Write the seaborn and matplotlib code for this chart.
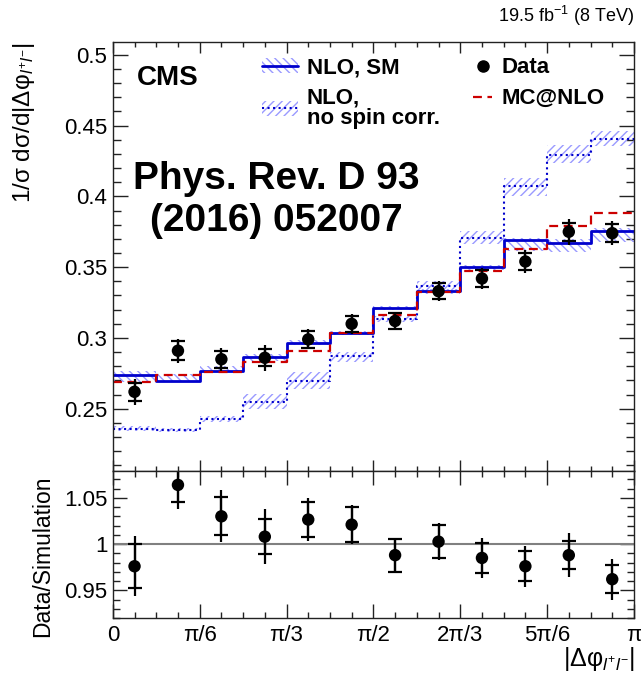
import numpy as np
import pandas as pd
import seaborn as sns
import matplotlib
matplotlib.use("Agg")
import matplotlib.pyplot as plt
from matplotlib.ticker import MultipleLocator, FixedLocator
from matplotlib.lines import Line2D
from matplotlib.patches import Patch

# bins of |delta phi(l+l-)|, 12 bins from 0 to pi
edges = np.linspace(0, np.pi, 13)
centers = 0.5 * (edges[1:] + edges[:-1])

# normalised cross section, data
data_y = [0.262, 0.291, 0.285, 0.286, 0.299, 0.310, 0.312, 0.333, 0.342, 0.354, 0.375, 0.374]
data_stat = [0.0065, 0.0068, 0.0060, 0.0060, 0.0060, 0.0058, 0.0055, 0.0058, 0.0058, 0.0060, 0.0062, 0.0062]
data_tot = [0.0090, 0.0085, 0.0080, 0.0090, 0.0070, 0.0070, 0.0065, 0.0070, 0.0075, 0.0080, 0.0090, 0.0085]

# NLO SM + uncertainty band
nlo_sm = [0.2742, 0.2697, 0.2768, 0.2868, 0.2965, 0.3035, 0.3213, 0.3329, 0.3502, 0.3692, 0.3669, 0.3754]
nlo_sm_hi = [0.2770, 0.2745, 0.2800, 0.2890, 0.2985, 0.3050, 0.3225, 0.3345, 0.3515, 0.3705, 0.3700, 0.3780]
nlo_sm_lo = [0.2690, 0.2690, 0.2760, 0.2840, 0.2950, 0.3020, 0.3200, 0.3310, 0.3480, 0.3615, 0.3605, 0.3680]

# NLO without spin correlation + band
nlo_ns = [0.2359, 0.2350, 0.2430, 0.2551, 0.2699, 0.2875, 0.3134, 0.3368, 0.3706, 0.4073, 0.4289, 0.4408]
nlo_ns_hi = [0.2375, 0.2365, 0.2450, 0.2606, 0.2758, 0.2899, 0.3157, 0.3404, 0.3756, 0.4131, 0.4366, 0.4460]
nlo_ns_lo = [0.2345, 0.2335, 0.2410, 0.2500, 0.2641, 0.2829, 0.3110, 0.3333, 0.3662, 0.4002, 0.4237, 0.4354]

# MC@NLO
mcatnlo = [0.2692, 0.2739, 0.2763, 0.2833, 0.2911, 0.3035, 0.3164, 0.3326, 0.3474, 0.3627, 0.3794, 0.3885]

# Data / Simulation
ratio = [0.976, 1.064, 1.030, 1.008, 1.0265, 1.021, 0.988, 1.0026, 0.985, 0.976, 0.988, 0.962]
ratio_stat = [0.0237, 0.018, 0.0204, 0.019, 0.019, 0.019, 0.018, 0.018, 0.0165, 0.016, 0.015, 0.015]
ratio_tot = [0.0326, 0.026, 0.028, 0.030, 0.023, 0.021, 0.019, 0.0197, 0.0215, 0.022, 0.024, 0.022]

xtick_pos = [0, np.pi / 6, np.pi / 3, np.pi / 2, 2 * np.pi / 3, 5 * np.pi / 6, np.pi]
xtick_lab = ["0", "π/6", "π/3", "π/2", "2π/3", "5π/6", "π"]
ytick_main = [0.25, 0.3, 0.35, 0.4, 0.45, 0.5]
ytick_main_lab = ["0.25", "0.3", "0.35", "0.4", "0.45", "0.5"]
ytick_ratio = [0.95, 1.0, 1.05]
ytick_ratio_lab = ["0.95", "1", "1.05"]

blue = "#0000cc"
red = "#cc0000"
hatch_col = "#9a9aff"

sns.set_theme(style="ticks")
plt.rcParams['font.family'] = ['Liberation Sans', 'DejaVu Sans']
plt.rcParams['mathtext.fontset'] = 'custom'
plt.rcParams['mathtext.rm'] = 'Liberation Sans'
plt.rcParams['mathtext.it'] = 'Liberation Sans:italic'
plt.rcParams['hatch.linewidth'] = 1.0
for k in ['text.color', 'axes.labelcolor', 'xtick.color', 'ytick.color', 'axes.edgecolor']:
    plt.rcParams[k] = 'black'


def steps(vals):
    return pd.DataFrame({"x": edges, "y": list(vals) + [vals[-1]]})


fig = plt.figure(figsize=(6.41, 6.73), dpi=100)
ax = fig.add_axes([0.176, 0.300, 0.813, 0.6376])
rax = fig.add_axes([0.176, 0.0817, 0.813, 0.2184])

# bands
ax.fill_between(edges, nlo_sm_lo + [nlo_sm_lo[-1]], nlo_sm_hi + [nlo_sm_hi[-1]], step='post',
                facecolor='none', edgecolor=hatch_col, hatch='\\\\\\\\', linewidth=0)
ax.fill_between(edges, nlo_ns_lo + [nlo_ns_lo[-1]], nlo_ns_hi + [nlo_ns_hi[-1]], step='post',
                facecolor='none', edgecolor=hatch_col, hatch='////', linewidth=0)

sns.lineplot(data=steps(nlo_ns), x="x", y="y", ax=ax, drawstyle='steps-post', color=blue,
             linestyle=':', linewidth=1.5, estimator=None, sort=False)
sns.lineplot(data=steps(nlo_sm), x="x", y="y", ax=ax, drawstyle='steps-post', color=blue,
             linewidth=2.0, estimator=None, sort=False)
sns.lineplot(data=steps(mcatnlo), x="x", y="y", ax=ax, drawstyle='steps-post', color=red,
             linestyle=(0, (4, 2.5)), linewidth=1.6, estimator=None, sort=False)

# data points
ax.errorbar(centers, data_y, yerr=data_tot, fmt='none', ecolor='black', elinewidth=1.6)
ax.errorbar(centers, data_y, yerr=data_stat, fmt='none', ecolor='black', elinewidth=1.6,
            capsize=5, capthick=1.6)
sns.scatterplot(x=centers, y=data_y, ax=ax, color='black', s=80, edgecolor='none', zorder=5)

ax.set_xlim(0, np.pi)
ax.set_ylim(0.206, 0.509)
ax.set_xlabel("")
ax.set_ylabel("")
ax.xaxis.set_major_locator(FixedLocator(xtick_pos))
ax.xaxis.set_minor_locator(MultipleLocator(np.pi / 24))
ax.set_xticklabels([])
ax.set_yticks(ytick_main)
ax.set_yticklabels(ytick_main_lab)
ax.yaxis.set_minor_locator(MultipleLocator(0.01))

# ratio panel
rax.axhline(1.0, color='#808080', linewidth=1.5)
rax.errorbar(centers, ratio, yerr=ratio_tot, fmt='none', ecolor='black', elinewidth=1.6)
rax.errorbar(centers, ratio, yerr=ratio_stat, fmt='none', ecolor='black', elinewidth=1.6,
             capsize=5, capthick=1.6)
sns.scatterplot(x=centers, y=ratio, ax=rax, color='black', s=80, edgecolor='none', zorder=5)
rax.set_xlim(0, np.pi)
rax.set_ylim(0.92, 1.079)
rax.set_xlabel("")
rax.set_ylabel("")
rax.set_xticks(xtick_pos)
rax.set_xticklabels(xtick_lab)
rax.xaxis.set_minor_locator(MultipleLocator(np.pi / 24))
rax.set_yticks(ytick_ratio)
rax.set_yticklabels(ytick_ratio_lab)
rax.yaxis.set_minor_locator(MultipleLocator(0.01))

for a in (ax, rax):
    a.tick_params(which='both', direction='in', top=True, right=True, labelsize=16,
                  width=1.0, color='#222222')
    for s in a.spines.values():
        s.set_linewidth(1.0)
        s.set_color('#222222')
ax.tick_params(axis='y', which='major', length=10.5, pad=4)
ax.tick_params(axis='y', which='minor', length=5.5)
ax.tick_params(axis='x', which='major', length=8)
ax.tick_params(axis='x', which='minor', length=3.8)
rax.tick_params(axis='y', which='major', length=10, pad=4)
rax.tick_params(axis='y', which='minor', length=5)
rax.tick_params(axis='x', which='major', length=10, pad=5)
rax.tick_params(axis='x', which='minor', length=4.5)

# legends
h_sm = (Patch(facecolor='none', edgecolor=hatch_col, hatch='\\\\\\\\', linewidth=0),
        Line2D([], [], color=blue, linewidth=2.0))
h_ns = (Patch(facecolor='none', edgecolor=hatch_col, hatch='////', linewidth=0),
        Line2D([], [], color=blue, linestyle=':', linewidth=1.5))
leg1 = ax.legend([h_sm, h_ns], ["NLO, SM", "NLO,\nno spin corr."], loc='upper left',
                 bbox_to_anchor=(0.27, 0.985), frameon=False, handlelength=1.6,
                 handletextpad=0.4, labelspacing=0.4, borderaxespad=0,
                 prop={'weight': 'bold', 'size': 16})
for t in leg1.get_texts():
    t.set_linespacing(1.0)
ax.add_artist(leg1)
h_data = Line2D([], [], color='black', marker='o', linestyle='none', markersize=8)
h_mc = Line2D([], [], color=red, linestyle=(0, (4, 2.5)), linewidth=1.6)
ax.legend([h_data, h_mc], ["Data", "MC@NLO"], loc='upper left', bbox_to_anchor=(0.675, 0.985),
          frameon=False, handlelength=0.85, handletextpad=0.4, labelspacing=0.45,
          borderaxespad=0, prop={'weight': 'bold', 'size': 16})

ax.text(0.046, 0.916, "CMS", transform=ax.transAxes, fontsize=20, fontweight='bold',
        ha='left', va='center')
ax.text(0.313, 0.632, "Phys. Rev. D 93\n(2016) 052007", transform=ax.transAxes, fontsize=28,
        fontweight='bold', ha='center', va='center', linespacing=1.2)

fig.text(0.989, 0.958, "19.5 fb$^{-1}$ (8 TeV)", ha='right', va='bottom', fontsize=13)
fig.text(0.037, 0.9376, "1/σ dσ/d|Δφ$_{l^{+}l^{-}}$|", rotation=90, ha='center', va='top',
         fontsize=17.5)
fig.text(0.066, 0.294, "Data/Simulation", rotation=90, ha='center', va='top', fontsize=16.5)
fig.text(0.991, 0.042, "|Δφ$_{l^{+}l^{-}}$|", ha='right', va='top', fontsize=18)

fig.savefig("out.png", dpi=100)
